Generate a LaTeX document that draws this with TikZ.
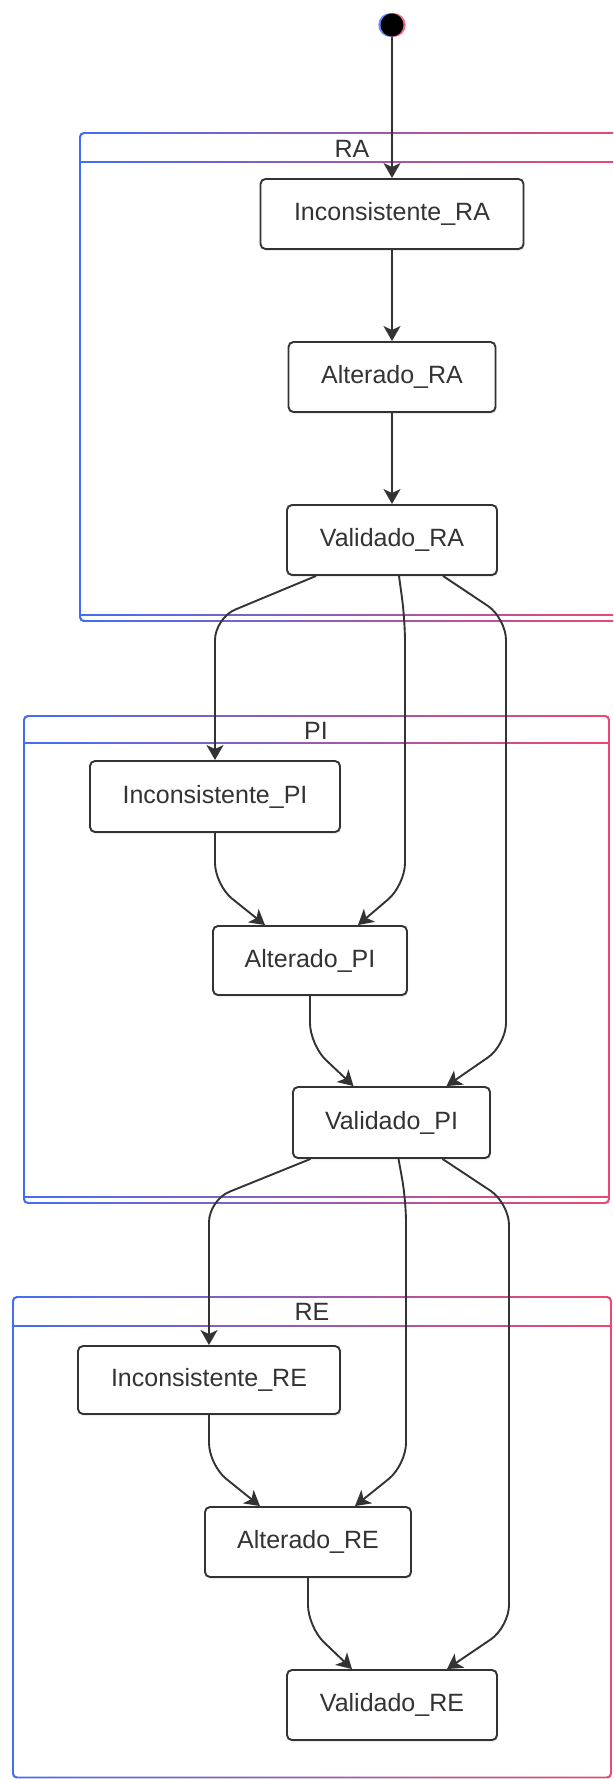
\documentclass[tikz,border=0pt]{standalone}
\usepackage{fontspec}
\setmainfont{Liberation Sans}
\usetikzlibrary{arrows.meta,shadows}
\definecolor{cblue}{RGB}{66,110,245}
\definecolor{cred}{RGB}{236,72,112}
\definecolor{ink}{RGB}{51,51,51}
\newcommand\stcontainer[5]{%
  \shade[left color=cblue, right color=cred, even odd rule, rounded corners=4pt]
    (#1-0.8,#2-0.8) rectangle (#3+0.8,#4+0.8) (#1+0.8,#2+0.8) rectangle (#3-0.8,#4-0.8);
  \shade[left color=cblue, right color=cred] (#1,#5-0.8) rectangle (#3,#5+0.8);
}
\newcommand\stinnerline[3]{%
  \shade[left color=cblue, right color=cred] (#1,#3-0.8) rectangle (#2,#3+0.8);
}
\begin{document}
\begin{tikzpicture}[x=1pt,y=-1pt,
  state/.style={draw=ink, line width=1.9pt, rounded corners=5pt, fill=white, text=ink,
    font=\fontsize{25}{30}\selectfont, inner sep=0pt,
    drop shadow={opacity=0.15, shadow xshift=1pt, shadow yshift=-2pt}},
  edge/.style={draw=ink, line width=1.9pt, rounded corners=22pt,
    -{Stealth[length=15pt,width=17pt,inset=4pt]}},
  title/.style={text=ink, font=\fontsize{25}{30}\selectfont, inner sep=0pt}]
\useasboundingbox (0,0) rectangle (613,1779);
\clip (0,0) rectangle (613,1779);
\fill[white] (0,0) rectangle (613,1779);

% containers
\stcontainer{80}{133}{625}{621}{162}
\stinnerline{80}{625}{615}
\stcontainer{24}{716}{609}{1203}{743}
\stinnerline{24}{609}{1197}
\stcontainer{13}{1297}{611}{1777.5}{1326}

\node[title] (tra) at (352,149) {RA};
\node[title] (tpi) at (316,731) {PI};
\node[title] (tre) at (312,1312) {RE};

% start
\fill[cblue!80] (390.3,25) circle (12pt);
\fill[cred!80] (393.7,25) circle (12pt);
\node[circle, fill=black, minimum size=23pt, inner sep=0pt] (start) at (392,25) {};

% states
\node[state, minimum width=263pt, minimum height=70pt] (incra) at (392,214) {Inconsistente\_RA};
\node[state, minimum width=207pt, minimum height=70pt] (altra) at (392,377) {Alterado\_RA};
\node[state, minimum width=210pt, minimum height=70pt] (valra) at (392,540) {Validado\_RA};

\node[state, minimum width=250pt, minimum height=71pt] (incpi) at (215,796.5) {Inconsistente\_PI};
\node[state, minimum width=194pt, minimum height=69pt] (altpi) at (310,960.5) {Alterado\_PI};
\node[state, minimum width=197pt, minimum height=71pt] (valpi) at (391.5,1122.5) {Validado\_PI};

\node[state, minimum width=262pt, minimum height=68pt] (incre) at (209,1380) {Inconsistente\_RE};
\node[state, minimum width=206pt, minimum height=70pt] (altre) at (308,1542) {Alterado\_RE};
\node[state, minimum width=210pt, minimum height=70pt] (valre) at (392,1705) {Validado\_RE};

% edges
\draw[edge] (start) -- (incra);
\draw[edge] (incra) -- (altra);
\draw[edge] (altra) -- (valra);

\draw[edge] ([xshift=-76pt]valra.south) -- (incpi.north |- 0,618) -- (incpi.north);
\draw[edge] ([xshift=7pt]valra.south) -- (405,620) -- (405,885) -- ([xshift=48pt]altpi.north);
\draw[edge] ([xshift=51pt]valra.south) -- (506,618) -- (506,1045) -- ([xshift=55pt]valpi.north);
\draw[edge] (incpi.south) -- (incpi.south |- 0,885) -- ([xshift=-45pt]altpi.north);
\draw[edge] (altpi.south) -- (altpi.south |- 0,1045) -- ([xshift=-38pt]valpi.north);

\draw[edge] ([xshift=-81pt]valpi.south) -- (incre.north |- 0,1200) -- (incre.north);
\draw[edge] ([xshift=7pt]valpi.south) -- (406,1200) -- (406,1465) -- ([xshift=47pt]altre.north);
\draw[edge] ([xshift=51pt]valpi.south) -- (509,1203) -- (509,1627) -- ([xshift=55pt]valre.north);
\draw[edge] (incre.south) -- (incre.south |- 0,1465) -- ([xshift=-48pt]altre.north);
\draw[edge] (altre.south) -- (altre.south |- 0,1627) -- ([xshift=-40pt]valre.north);
\end{tikzpicture}
\end{document}
